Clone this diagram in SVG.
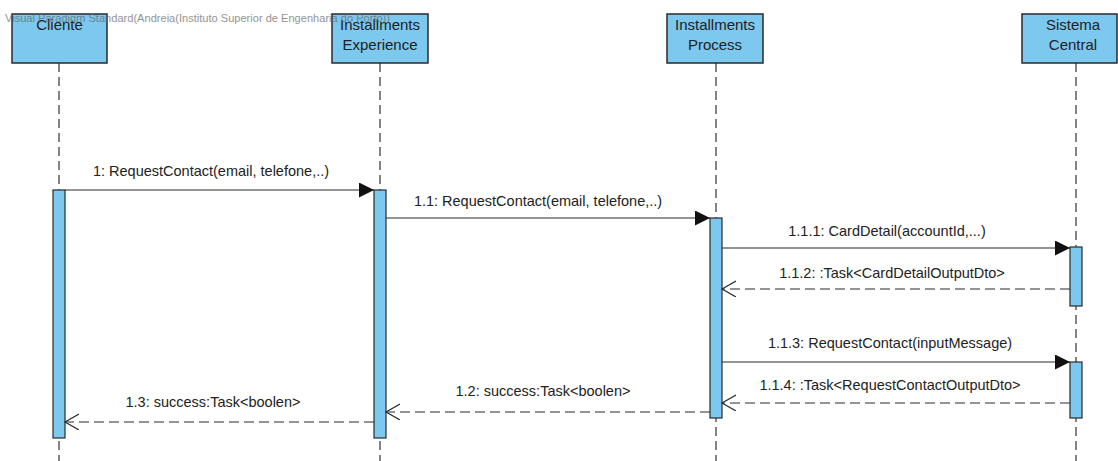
<svg xmlns="http://www.w3.org/2000/svg" width="1118" height="461" viewBox="0 0 1118 461">
  <style>
    .head { fill: #7cc8ef; stroke: #2a2a2a; stroke-width: 1.5; }
    .bar { fill: #7cc8ef; stroke: #2a2a2a; stroke-width: 1.2; }
    .life { stroke: #333; stroke-width: 1.2; stroke-dasharray: 9 5; fill: none; }
    .name { font-family: "Liberation Sans", Arial, sans-serif; font-size: 15px; fill: #222; text-anchor: middle; }
    .msg { font-family: "Liberation Sans", Arial, sans-serif; font-size: 14.5px; fill: #222; text-anchor: middle; }
    .call { stroke: #2a2a2a; stroke-width: 1.2; fill: none; marker-end: url(#solid); }
    .reply { stroke: #2a2a2a; stroke-width: 1.2; fill: none; stroke-dasharray: 10 5; marker-end: url(#open); }
    .mark { font-family: "Liberation Sans", Arial, sans-serif; font-size: 10.5px; fill: #666; opacity: 0.7; }
  </style>
  <defs>
    <marker id="solid" markerUnits="userSpaceOnUse" markerWidth="16" markerHeight="16" refX="15" refY="7.5" orient="auto">
      <path d="M0,0 L15,7.5 L0,15 Z" fill="#111" stroke="none"/>
    </marker>
    <marker id="open" markerUnits="userSpaceOnUse" markerWidth="16" markerHeight="18" refX="14" refY="8" orient="auto">
      <path d="M0,0 L14,8 L0,16" fill="none" stroke="#2a2a2a" stroke-width="1.2" stroke-dasharray="none"/>
    </marker>
  </defs>
  <rect width="1118" height="461" fill="#ffffff"/>

  <!-- lifeline: Cliente -->
  <g id="cliente">
    <line class="life" x1="59" y1="63" x2="59" y2="461"/>
    <rect class="head" x="12" y="14" width="95" height="49"/>
    <text class="name" x="59.5" y="30">Cliente</text>
    <rect class="bar" x="53" y="190" width="12" height="248"/>
  </g>

  <!-- lifeline: Installments Experience -->
  <g id="installments-experience">
    <line class="life" x1="380" y1="63" x2="380" y2="461"/>
    <rect class="head" x="332" y="14" width="96" height="49"/>
    <text class="name" x="380" y="30">Installments</text>
    <text class="name" x="380" y="50">Experience</text>
    <rect class="bar" x="374" y="190" width="12" height="248"/>
  </g>

  <!-- lifeline: Installments Process -->
  <g id="installments-process">
    <line class="life" x1="716" y1="63" x2="716" y2="461"/>
    <rect class="head" x="667" y="14" width="96" height="49"/>
    <text class="name" x="715" y="30">Installments</text>
    <text class="name" x="715" y="50">Process</text>
    <rect class="bar" x="710" y="218" width="12" height="200"/>
  </g>

  <!-- lifeline: Sistema Central -->
  <g id="sistema-central">
    <line class="life" x1="1076" y1="63" x2="1076" y2="461"/>
    <rect class="head" x="1022" y="14" width="95" height="49"/>
    <text class="name" x="1073" y="30">Sistema</text>
    <text class="name" x="1073" y="50">Central</text>
    <rect class="bar" x="1070" y="247" width="12" height="59"/>
    <rect class="bar" x="1070" y="362" width="12" height="56"/>
  </g>

  <!-- messages -->
  <g id="connectors">
    <line class="call" x1="65" y1="190" x2="374" y2="190"/>
    <text class="msg" x="211" y="176">1: RequestContact(email, telefone,..)</text>

    <line class="call" x1="386" y1="218" x2="710" y2="218"/>
    <text class="msg" x="538" y="206">1.1: RequestContact(email, telefone,..)</text>

    <line class="call" x1="722" y1="248" x2="1070" y2="248"/>
    <text class="msg" x="887" y="236">1.1.1: CardDetail(accountId,...)</text>

    <line class="reply" x1="1070" y1="289" x2="722" y2="289"/>
    <text class="msg" x="892" y="278">1.1.2: :Task&lt;CardDetailOutputDto&gt;</text>

    <line class="call" x1="722" y1="362" x2="1070" y2="362"/>
    <text class="msg" x="890" y="348">1.1.3: RequestContact(inputMessage)</text>

    <line class="reply" x1="1070" y1="403" x2="722" y2="403"/>
    <text class="msg" x="890" y="390">1.1.4: :Task&lt;RequestContactOutputDto&gt;</text>

    <line class="reply" x1="710" y1="412" x2="386" y2="412"/>
    <text class="msg" x="543" y="396">1.2: success:Task&lt;boolen&gt;</text>

    <line class="reply" x1="374" y1="422" x2="65" y2="422"/>
    <text class="msg" x="213" y="407">1.3: success:Task&lt;boolen&gt;</text>
  </g>

  <!-- edition stamp across the top -->
  <text class="mark" x="5" y="22" textLength="385" lengthAdjust="spacingAndGlyphs">Visual Paradigm Standard(Andreia(Instituto Superior de Engenharia do Porto))</text>
</svg>
